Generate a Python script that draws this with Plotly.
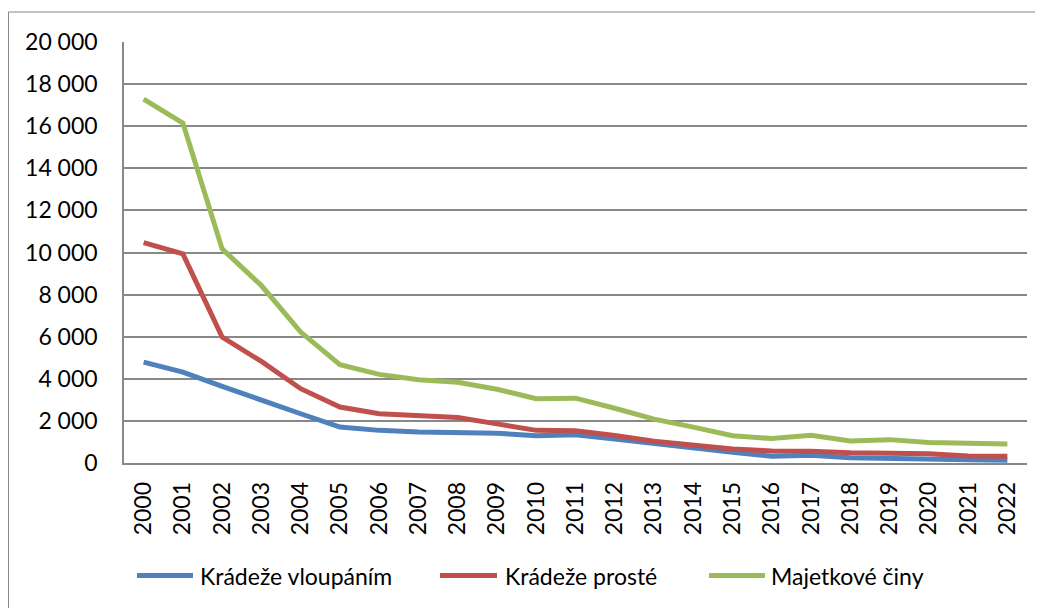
import plotly.graph_objects as go

years = [str(y) for y in range(2000, 2023)]
kradeze_vloupanim = [4790, 4320, 3640, 3020, 2340, 1710, 1550, 1470, 1445, 1415, 1295, 1340,
                     1135, 915, 710, 505, 320, 365, 255, 240, 220, 160, 130]
kradeze_proste = [10470, 9935, 5980, 4825, 3530, 2660, 2340, 2230, 2160, 1860, 1550, 1530,
                  1310, 1030, 840, 660, 570, 560, 490, 445, 445, 330, 320]
majetkove_ciny = [17290, 16150, 10170, 8430, 6220, 4670, 4210, 3950, 3840, 3505, 3050, 3080,
                  2600, 2085, 1705, 1295, 1160, 1320, 1050, 1110, 970, 920, 905]

series_names = ["Krádeže vloupáním", "Krádeže prosté", "Majetkové činy"]
series_colors = ["#4F81BD", "#C0504D", "#9BBB59"]
y_ticks = list(range(0, 20001, 2000))

FONT = "Lato"
GRID = "#888888"

# The page has an 8px body margin; layout numbers below are in page pixels.
PAGE_OFF = 8
PLOT_L, PLOT_T, PLOT_R, PLOT_B = 124, 42, 1027, 463
PW, PH = PLOT_R - PLOT_L, PLOT_B - PLOT_T


def px_x(x):
    return (x - PLOT_L) / PW


def px_y(y):
    return 1 - (y - PLOT_T) / PH


fig = go.Figure()
for name, vals, col in zip(series_names, [kradeze_vloupanim, kradeze_proste, majetkove_ciny], series_colors):
    fig.add_trace(go.Scatter(x=years, y=vals, name=name, mode="lines",
                             line=dict(color=col, width=5), showlegend=False))

# manual legend (Excel style: long line sample followed by text)
legend_line_x = [(137, 193), (440, 497), (709, 765)]
legend_text_x = [198, 503, 769]
legend_y = 575.5
shapes = [dict(type="rect", xref="paper", yref="paper",
               x0=px_x(8.5), x1=1.2, y0=-0.6, y1=px_y(12),
               line=dict(color=GRID, width=1), layer="below")]
annotations = []
for (x0, x1), tx, name, col in zip(legend_line_x, legend_text_x, series_names, series_colors):
    shapes.append(dict(type="line", xref="paper", yref="paper",
                       x0=px_x(x0), x1=px_x(x1), y0=px_y(legend_y), y1=px_y(legend_y),
                       line=dict(color=col, width=5)))
    annotations.append(dict(xref="paper", yref="paper", x=px_x(tx), y=px_y(legend_y),
                            xanchor="left", yanchor="middle", showarrow=False, text=name,
                            font=dict(family=FONT, size=23, color="#000000")))

fig.update_layout(
    width=1043 - PAGE_OFF, height=608 - PAGE_OFF,
    margin=dict(l=PLOT_L - PAGE_OFF, r=1043 - PLOT_R, t=PLOT_T - PAGE_OFF, b=608 - PLOT_B, pad=0),
    paper_bgcolor="white", plot_bgcolor="white",
    separators=", ",
    font=dict(family=FONT, size=23, color="#000000"),
    showlegend=False,
    xaxis=dict(type="category", tickangle=-90, showgrid=False, showline=True,
               linecolor=GRID, linewidth=1.5, ticks="", ticklabelstandoff=8,
               tickfont=dict(family=FONT, size=23), range=[-0.5, 22.5]),
    yaxis=dict(range=[0, 20000], tickvals=y_ticks, tickformat=",d", showgrid=True,
               gridcolor=GRID, gridwidth=1.5, showline=True, linecolor=GRID, linewidth=1.5,
               ticks="", ticklabelstandoff=20, zeroline=False,
               tickfont=dict(family=FONT, size=23)),
    shapes=shapes,
    annotations=annotations,
)

fig.write_html("out.html")
